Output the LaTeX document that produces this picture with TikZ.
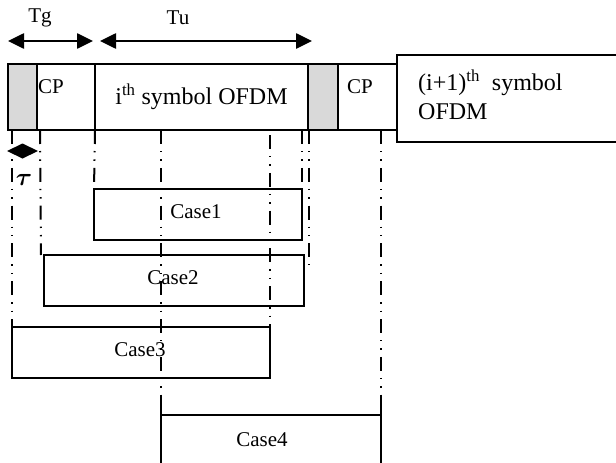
\documentclass[tikz,border=0pt]{standalone}
\usepackage{fontspec}
\usepackage{amsmath,bm}
\setmainfont{Liberation Serif}
\usetikzlibrary{arrows.meta,calc}
\definecolor{cpgray}{HTML}{D9D9D9}
\begin{document}
\begin{tikzpicture}[x=1pt,y=-1pt,
  box/.style={draw=black,line width=1.8pt,inner sep=0pt,outer sep=0pt,anchor=north west},
  graybox/.style={box,fill=cpgray},
  txt/.style={inner sep=0pt,font=\fontsize{21}{26}\selectfont},
  bigtxt/.style={inner sep=0pt,font=\fontsize{24}{29}\selectfont},
  ddot/.style={line width=2pt,dash pattern=on 14pt off 7pt on 1.4pt off 7pt on 1.4pt off 7pt},
  solidv/.style={line width=1.8pt},
  dimarrow/.style={line width=2.6pt,{Triangle[length=16pt,width=15pt]}-{Triangle[length=16pt,width=15pt]}}]
\useasboundingbox (0,0) rectangle (616,463);
\fill[white] (0,0) rectangle (616,463);
% top strip
\node[graybox,minimum width=29pt,minimum height=66pt] (g1) at (8,64) {};
\node[box,minimum width=58pt,minimum height=66pt] (cp1) at (37,64) {};
\node[box,minimum width=213pt,minimum height=66pt,font=\fontsize{24}{29}\selectfont] (sym) at (95,64) {i\textsuperscript{th} symbol OFDM};
\node[graybox,minimum width=30pt,minimum height=66pt] (g2) at (308,64) {};
\node[box,minimum width=59pt,minimum height=66pt] (cp2) at (338,64) {};
\node[box,minimum width=240pt,minimum height=87pt] (next) at (397,55) {};
\node[txt,anchor=west] (cpt1) at (38,87) {CP};
\node[txt,anchor=west] (cpt2) at (347,87) {CP};
\node[bigtxt,anchor=north west,align=left] (nextt) at (418,70) {(i+1)\textsuperscript{th}\ \ symbol\\OFDM};
% dimension arrows
\coordinate (tgA) at (8,41);
\coordinate (tgB) at (93,41);
\coordinate (tuA) at (100,41);
\coordinate (tuB) at (312,41);
\draw[dimarrow] (tgA) -- (tgB);
\draw[dimarrow] (tuA) -- (tuB);
\node[txt] (tg) at (40,18) {Tg};
\node[txt] (tu) at (178,18) {Tu};
% tau marker
\fill (7,151) -- (22.5,143.5) -- (38,151) -- (22.5,158.5) -- cycle;
\node[inner sep=0pt,font=\fontsize{27}{30}\selectfont] (tau) at (24,180) {$\bm{\tau}$};
% case boxes
\node[box,minimum width=208pt,minimum height=51pt] (case1) at (94,189) {};
\node[box,minimum width=260pt,minimum height=51pt] (case2) at (44,255) {};
\node[box,minimum width=258pt,minimum height=51pt] (case3) at (12,327) {};
\node[txt] (c1t) at (196,212) {Case1};
\node[txt] (c2t) at (173,278) {Case2};
\node[txt] (c3t) at (140,350) {Case3};
% case 4 (open box)
\coordinate (c4l) at (161,415);
\coordinate (c4r) at (381,415);
\draw[solidv] (c4l) -- (c4r);
\node[txt] (c4t) at (262,440) {Case4};
% dash-dot guide lines
\draw[ddot] (12,130) -- (case3.north west);
\draw[ddot] (40,130) -- (41,255);
\draw[ddot] (sym.south west) -- (case1.north west);
\draw[ddot] (161,130) -- (161,400);
\draw[ddot] (270,135) -- (case3.north east);
\draw[ddot] (302,130) -- (case1.north east);
\draw[ddot] (309,130) -- (309,265);
\draw[ddot] (381,130) -- (381,400);
\draw[solidv] (161,400) -- (161,470);
\draw[solidv] (381,400) -- (381,470);
\end{tikzpicture}
\end{document}
